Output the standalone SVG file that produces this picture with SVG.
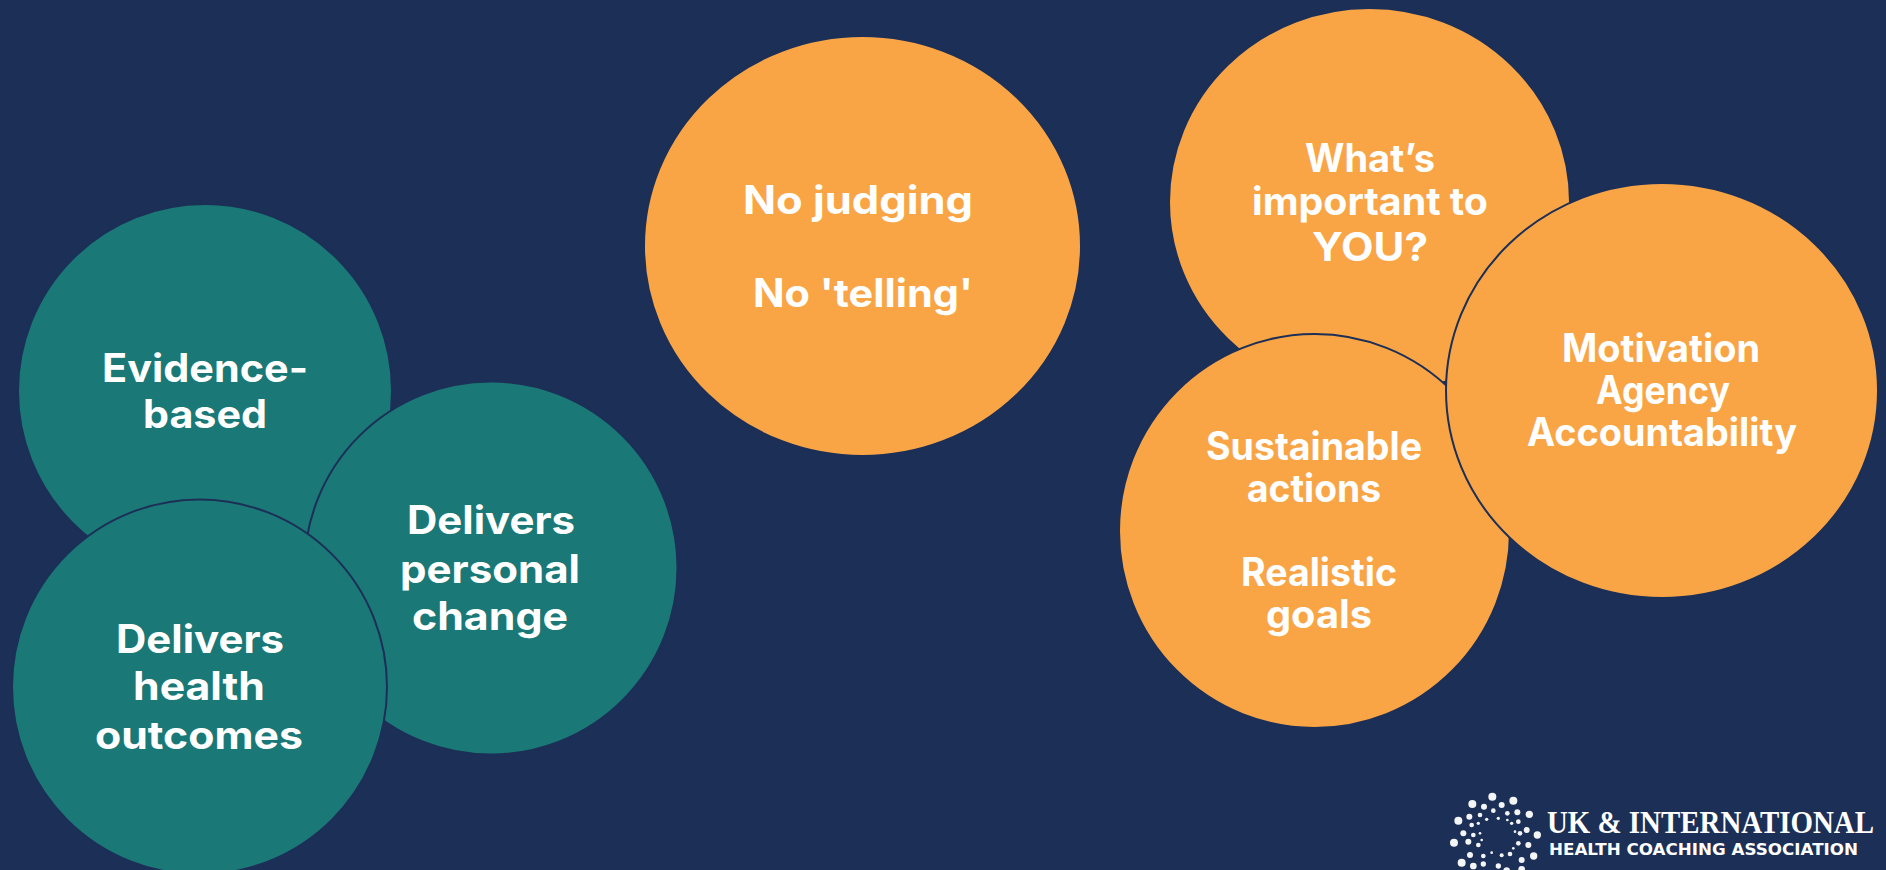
<svg xmlns="http://www.w3.org/2000/svg" width="1886" height="870" viewBox="0 0 1886 870">
<style>
.t{fill:#1a7876;stroke:#1c2f57;stroke-width:2}
.o{fill:#f9a546;stroke:#1c2f57;stroke-width:2}
text{font-family:"Inter","Liberation Sans",sans-serif;font-weight:700;fill:#fff;text-anchor:middle;font-size:39px}
.l{font-family:"Liberation Serif",serif;font-size:31px;text-anchor:start}
.s{font-family:"DejaVu Sans",sans-serif;font-size:16px;text-anchor:start}
</style>
<rect width="1886" height="870" fill="#1c2f57"/>
<g id="evidence"><circle class="t" cx="205" cy="391" r="187"/><text x="205" y="382" textLength="206" lengthAdjust="spacingAndGlyphs">Evidence-</text><text x="205" y="428" textLength="124" lengthAdjust="spacingAndGlyphs">based</text></g>
<g id="personal"><circle class="t" cx="491" cy="568" r="186.5"/><text x="491" y="534" textLength="168" lengthAdjust="spacingAndGlyphs">Delivers</text><text x="490" y="583" textLength="180" lengthAdjust="spacingAndGlyphs">personal</text><text x="490" y="630" textLength="156" lengthAdjust="spacingAndGlyphs">change</text></g>
<g id="health"><circle class="t" cx="199.500" cy="687" r="187.500"/><text x="200" y="653" textLength="168" lengthAdjust="spacingAndGlyphs">Delivers</text><text x="199" y="700" textLength="132" lengthAdjust="spacingAndGlyphs">health</text><text x="199" y="749" textLength="208" lengthAdjust="spacingAndGlyphs">outcomes</text></g>
<g id="nojudging"><ellipse class="o" cx="862.5" cy="246" rx="218.5" ry="210"/><text x="858" y="214" textLength="230" lengthAdjust="spacingAndGlyphs">No judging</text><text x="863" y="307" textLength="220" lengthAdjust="spacingAndGlyphs">No 'telling'</text></g>
<g id="important"><ellipse class="o" cx="1369.500" cy="202" rx="200.500" ry="194"/><text x="1370" y="172" font-size="37" textLength="130" lengthAdjust="spacingAndGlyphs">What’s</text><text x="1370" y="215" font-size="36" textLength="236" lengthAdjust="spacingAndGlyphs">important to</text><text x="1370" y="261" font-size="42" textLength="116" lengthAdjust="spacingAndGlyphs">YOU?</text></g>
<g id="sustainable"><ellipse class="o" cx="1314.500" cy="531" rx="195.500" ry="197"/><text x="1314" y="460" font-size="36" textLength="216" lengthAdjust="spacingAndGlyphs">Sustainable</text><text x="1314" y="502" font-size="36" textLength="134" lengthAdjust="spacingAndGlyphs">actions</text><text x="1319" y="586" font-size="36" textLength="156" lengthAdjust="spacingAndGlyphs">Realistic</text><text x="1319" y="628" font-size="36" textLength="106" lengthAdjust="spacingAndGlyphs">goals</text></g>
<g id="motivation"><ellipse class="o" cx="1662" cy="390.500" rx="216" ry="207.500"/><text x="1661" y="362" font-size="36" textLength="198" lengthAdjust="spacingAndGlyphs">Motivation</text><text x="1663" y="404" font-size="36" textLength="134" lengthAdjust="spacingAndGlyphs">Agency</text><text x="1662" y="446" font-size="36" textLength="270" lengthAdjust="spacingAndGlyphs">Accountability</text></g>
<g id="connectors"></g>
<g id="logo">
<g transform="translate(1430 780) scale(.33333)" fill="#f4f5f7">
<circle cx="187" cy="50" r="12"/><circle cx="250" cy="62" r="12"/><circle cx="127" cy="72" r="12"/><circle cx="298" cy="103" r="11"/><circle cx="85" cy="122" r="12"/><circle cx="322" cy="165" r="11"/><circle cx="72" cy="188" r="12"/><circle cx="311" cy="228" r="11"/><circle cx="95" cy="248" r="12"/><circle cx="275" cy="268" r="10"/><circle cx="230" cy="272" r="10"/><circle cx="130" cy="258" r="10"/>
<circle cx="162" cy="80" r="9"/><circle cx="215" cy="75" r="9"/><circle cx="262" cy="97" r="9"/><circle cx="118" cy="110" r="9"/><circle cx="100" cy="160" r="9"/><circle cx="290" cy="150" r="9"/><circle cx="115" cy="185" r="9"/><circle cx="295" cy="195" r="9"/><circle cx="120" cy="225" r="9"/><circle cx="275" cy="240" r="9"/><circle cx="160" cy="252" r="8"/><circle cx="205" cy="258" r="8"/>
<circle cx="190" cy="92" r="7"/><circle cx="232" cy="100" r="7"/><circle cx="150" cy="105" r="7"/><circle cx="125" cy="135" r="7"/><circle cx="265" cy="125" r="7"/><circle cx="130" cy="165" r="7"/><circle cx="270" cy="160" r="7"/><circle cx="145" cy="195" r="7"/><circle cx="265" cy="190" r="7"/><circle cx="160" cy="228" r="7"/><circle cx="240" cy="222" r="7"/><circle cx="215" cy="226" r="6"/>
<circle cx="170" cy="118" r="5"/><circle cx="205" cy="115" r="5"/><circle cx="145" cy="130" r="5"/><circle cx="245" cy="130" r="5"/><circle cx="150" cy="160" r="4"/><circle cx="255" cy="155" r="4"/><circle cx="155" cy="180" r="4"/><circle cx="250" cy="205" r="4"/><circle cx="185" cy="218" r="4"/><circle cx="232" cy="120" r="4"/>
</g>
<text class="l" x="1547" y="833" textLength="327" lengthAdjust="spacingAndGlyphs">UK &amp; INTERNATIONAL</text>
<text class="s" x="1549" y="855" textLength="309" lengthAdjust="spacingAndGlyphs">HEALTH COACHING ASSOCIATION</text>
</g>
</svg>
